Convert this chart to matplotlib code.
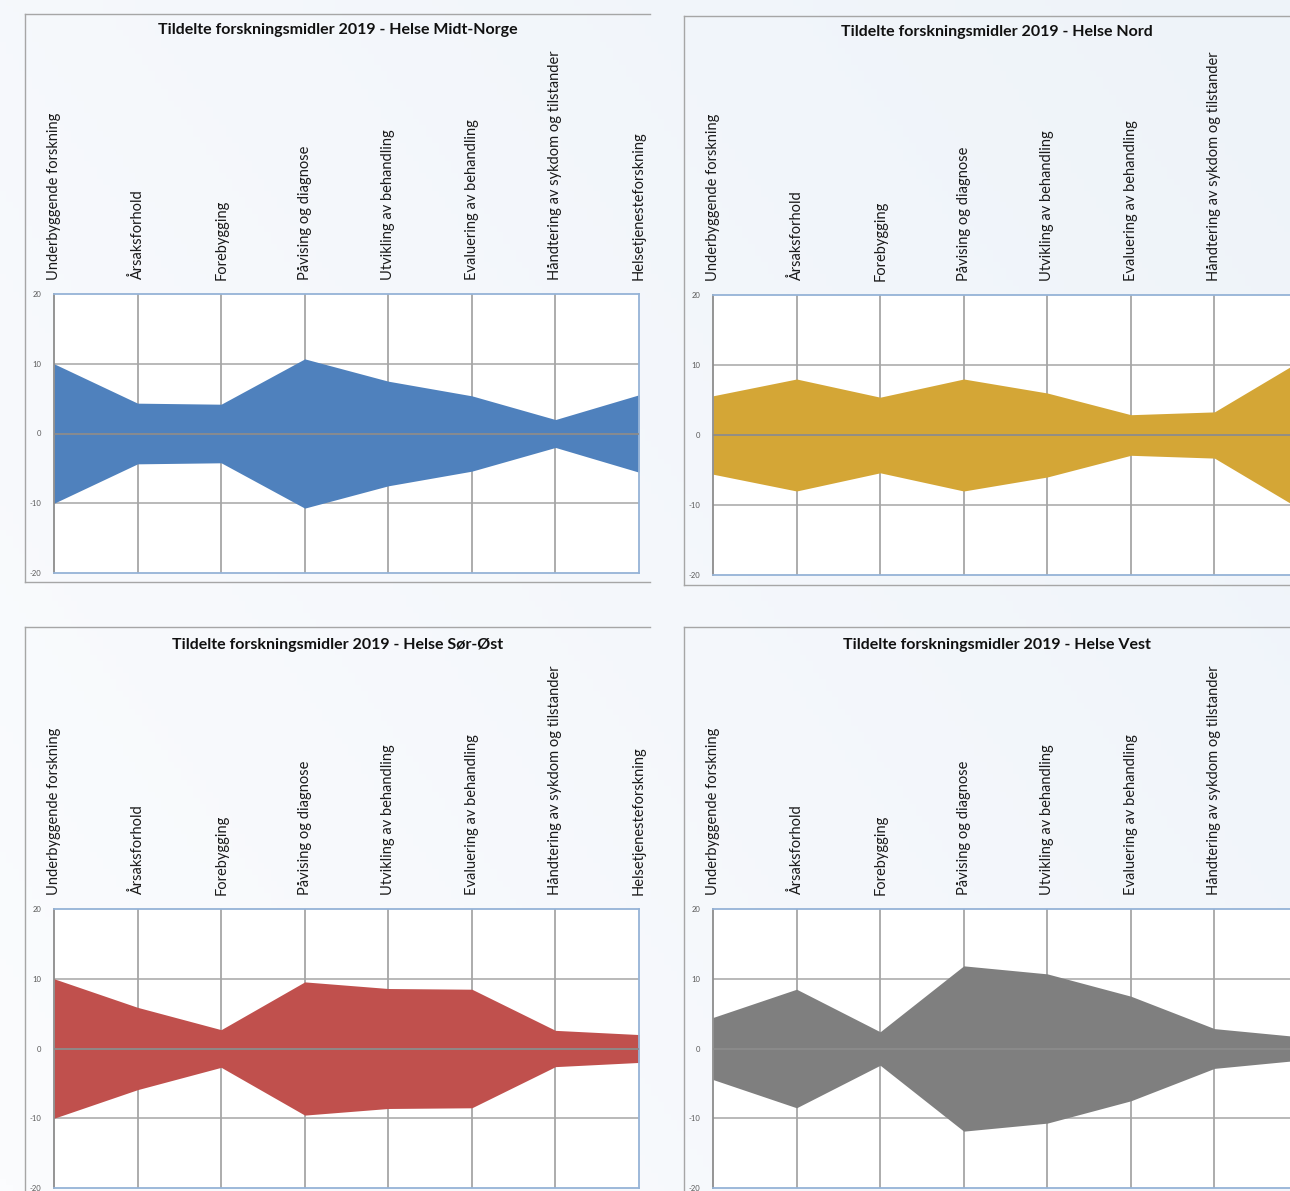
import matplotlib
matplotlib.use('Agg')
import matplotlib.pyplot as plt
from matplotlib.lines import Line2D
import numpy as np

# categories and values (half-width of each band, mirrored around 0)
categories = ['Underbyggende forskning', 'Årsaksforhold', 'Forebygging', 'Påvising og diagnose',
              'Utvikling av behandling', 'Evaluering av behandling',
              'Håndtering av sykdom og tilstander', 'Helsetjenesteforskning']
midt_norge = [10.0, 4.35, 4.2, 10.7, 7.5, 5.4, 2.0, 5.55]
nord = [5.6, 8.0, 5.4, 8.0, 6.0, 2.9, 3.3, 10.4]
sor_ost = [10.0, 5.9, 2.7, 9.55, 8.6, 8.5, 2.6, 2.0]
vest = [4.45, 8.5, 2.4, 11.85, 10.7, 7.5, 2.85, 1.7]
titles = ['Tildelte forskningsmidler 2019 - Helse Midt-Norge',
          'Tildelte forskningsmidler 2019 - Helse Nord',
          'Tildelte forskningsmidler 2019 - Helse Sør-Øst',
          'Tildelte forskningsmidler 2019 - Helse Vest']
colors = ['#4f81bd', '#d4a636', '#c0504d', '#7f7f7f']
yticks = [-20, -10, 0, 10, 20]

W, H = 1290, 1191
plt.rcParams['font.family'] = ['Lato', 'DejaVu Sans']

fig = plt.figure(figsize=(W / 100, H / 100), dpi=100)

# soft background gradient
bg = fig.add_axes([0, 0, 1, 1], zorder=-10)
gx, gy = np.meshgrid(np.linspace(0, 1, 200), np.linspace(0, 1, 200))
grad = 0.6 * gx + 0.4 * (1 - gy)
bg.imshow(grad, cmap=matplotlib.colors.LinearSegmentedColormap.from_list('bg', ['#fbfcfe', '#eef3f9']),
          extent=[0, 1, 0, 1], aspect='auto')
bg.axis('off')


def fx(px):
    return px / W


def fy(py):
    return 1 - py / H


# frame (left, top, right, bottom) and plot area (left, top, right, bottom) in pixels
frames = [(25, 14, 650, 582), (684, 16, 1309, 585), (25, 627, 650, 1230), (684, 627, 1309, 1230)]
plots = [(54, 294, 639, 573), (713, 295, 1298, 575), (54, 909, 639, 1188), (713, 909, 1298, 1188)]
title_y = [30, 32, 645, 645]
series = [midt_norge, nord, sor_ost, vest]

x = np.arange(len(categories))

for k in range(4):
    fl, ft, fr, fb = frames[k]
    lc = '#a6a6a6'
    fig.add_artist(Line2D([fx(fl), fx(fl)], [fy(ft), fy(fb)], color=lc, lw=1.0))
    fig.add_artist(Line2D([fx(fl), fx(fr)], [fy(ft), fy(ft)], color=lc, lw=1.0))
    fig.add_artist(Line2D([fx(fl), fx(fr)], [fy(fb), fy(fb)], color=lc, lw=1.0))
    fig.text(fx((fl + fr) / 2), fy(title_y[k]), titles[k], ha='center', va='center',
             fontsize=11.5, fontweight='bold', color='#111111')

    pl, pt, pr, pb = plots[k]
    ax = fig.add_axes([fx(pl), fy(pb), (pr - pl) / W, (pb - pt) / H])
    ax.set_facecolor('white')
    v = np.array(series[k])
    ax.fill_between(x, -v, v, color=colors[k], lw=0, zorder=2)
    ax.axhline(0, color='#8c8c8c', lw=1.3, zorder=3)
    for yy in [-10, 10]:
        ax.axhline(yy, color='#a6a6a6', lw=1.1, zorder=1)
    for xx in x[1:-1]:
        ax.axvline(xx, color='#a6a6a6', lw=1.3, zorder=1)
    ax.set_xlim(0, len(categories) - 1)
    ax.set_ylim(-20, 20)
    ax.set_yticks(yticks)
    ax.set_yticklabels([str(t) for t in yticks], fontsize=5.5, color='#595959')
    ax.tick_params(axis='y', length=0, pad=9)
    ax.xaxis.tick_top()
    ax.set_xticks(x)
    labels = ax.set_xticklabels(categories, rotation=90, fontsize=10.5, color='#1a1a1a')
    # the right-hand charts run past the edge of the screenshot
    if pr > W:
        labels[-1].set_visible(False)
    ax.tick_params(axis='x', length=0, pad=10)
    for s in ['top', 'bottom', 'right']:
        ax.spines[s].set_color('#95b3d7')
        ax.spines[s].set_linewidth(1.3)
    ax.spines['left'].set_color('#8c8c8c')
    ax.spines['left'].set_linewidth(1.3)

fig.savefig('out.png', dpi=100)
